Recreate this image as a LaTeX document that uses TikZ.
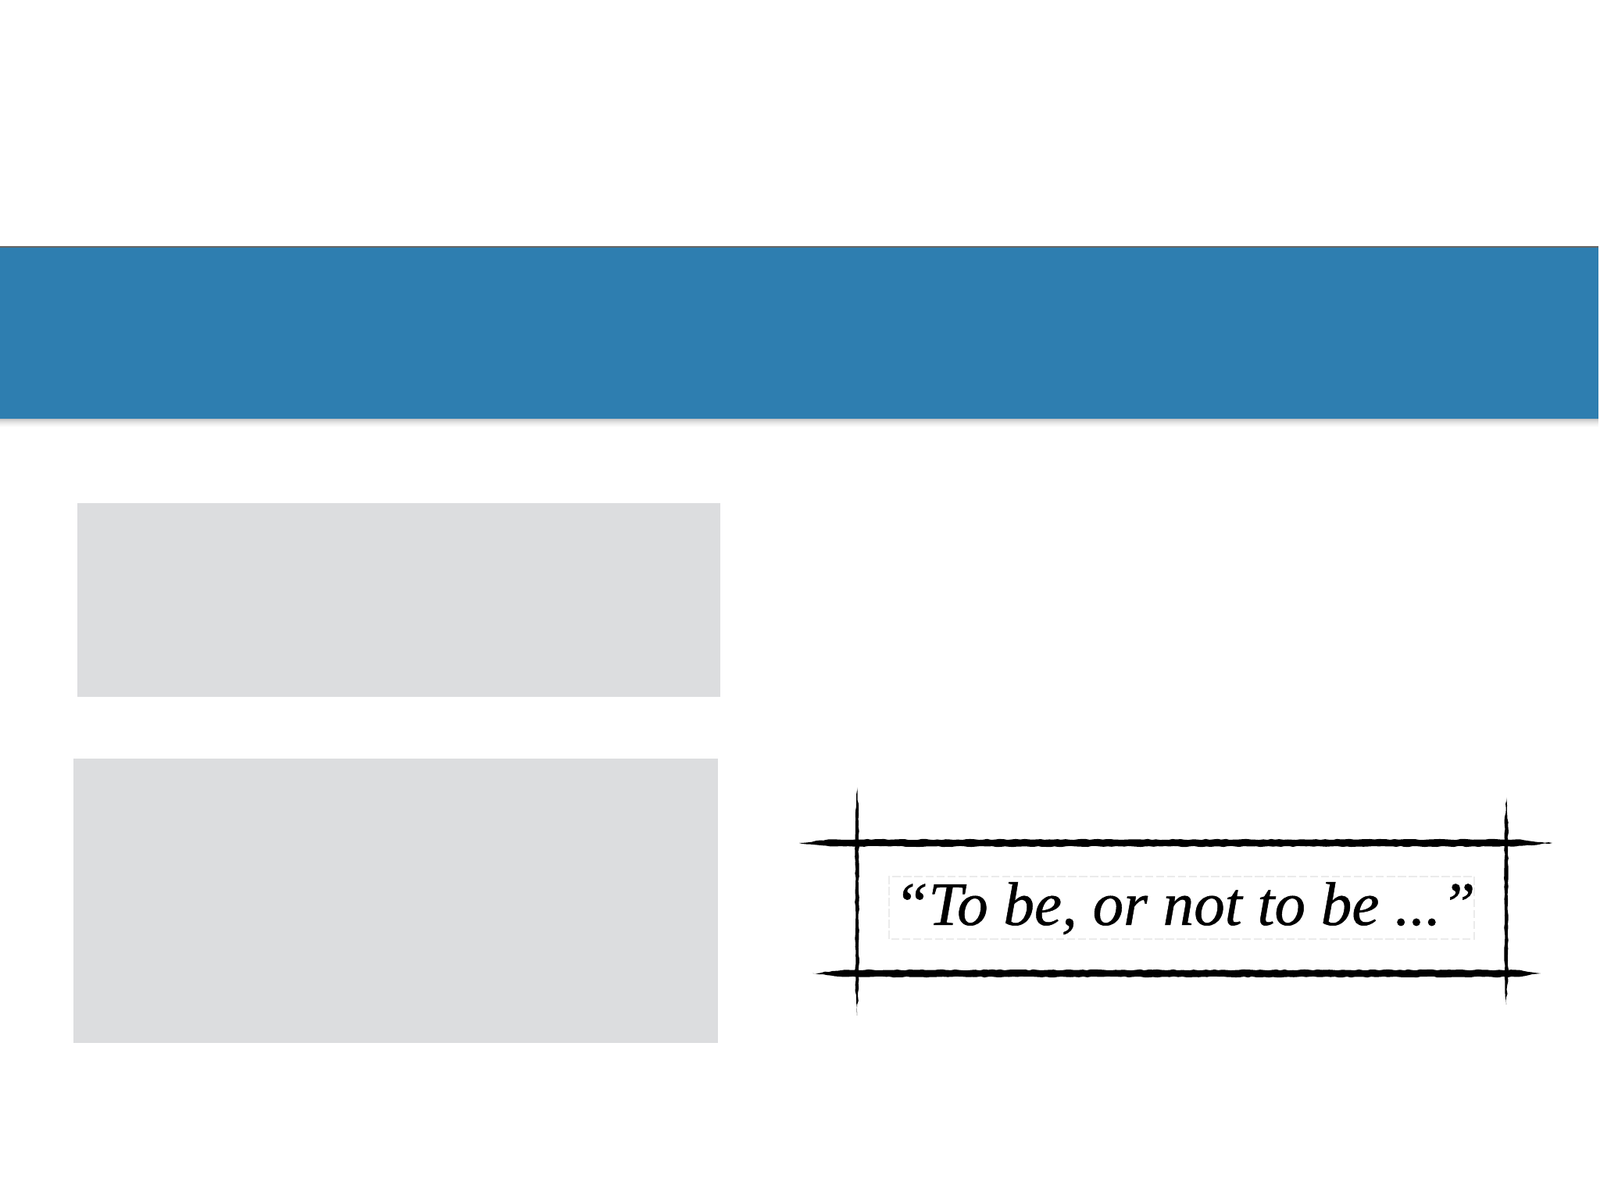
\documentclass[tikz,border=0pt]{standalone}
\usepackage{fontspec}
\setmainfont{Liberation Serif}
\usepackage{tikz}
\usetikzlibrary{decorations.pathmorphing}
\definecolor{bandblue}{HTML}{2E7EB0}
\definecolor{boxgrey}{HTML}{DCDDDF}
\tikzset{ink/.style={fill=black,decorate,decoration={random steps,segment length=1.5pt,amplitude=0.2pt}}}
\tikzset{faint/.style={draw=black!8,line width=0.4pt,dash pattern=on 3pt off 1pt}}

\begin{document}
\begin{tikzpicture}
\useasboundingbox (0,0) rectangle (20.48,15.36);

\fill[bandblue] (0,10.00) rectangle (20.46,12.21);
\draw[black!60, line width=0.6pt] (0,12.20) -- (20.46,12.20);
\foreach \i/\o in {1/0.22,2/0.15,3/0.10,4/0.06,5/0.03}
         {
           \draw[black,opacity=\o,line width=0.02cm] (0,10.01-\i*0.02) -- (20.46,10.01-\i*0.02);
         }

\fill[boxgrey] (0.99,6.44) rectangle (9.22,8.92);
\fill[boxgrey] (0.94,2.01) rectangle (9.19,5.65);

\foreach \y/\a/\b in {4.57/10.23/19.87, 2.90/10.40/19.72}
         {
           \fill[ink] (\a,\y) -- (\a+0.40,\y+0.045) -- (19.40,\y+0.045) -- (\b,\y) -- (19.40,\y-0.045) -- (\a+0.40,\y-0.045) -- cycle;
         }
\foreach \x/\t/\b in {10.97/5.28/2.36, 19.28/5.15/2.50}
         {
           \fill[ink] (\x,\t) -- (\x+0.022,\t-0.35) -- (\x+0.022,\b+0.35) -- (\x,\b) -- (\x-0.022,\b+0.35) -- (\x-0.022,\t-0.35) -- cycle;
         }

\draw[faint] (11.38,3.34) rectangle (18.87,4.14);
\node[anchor=base,inner sep=0pt,font=\fontsize{22.5}{27}\selectfont\itshape\addfontfeature{FakeBold=0.6}] (quote) at (15.165,3.52) {“To be, or not to be ...”};
\end{tikzpicture}
\end{document}
